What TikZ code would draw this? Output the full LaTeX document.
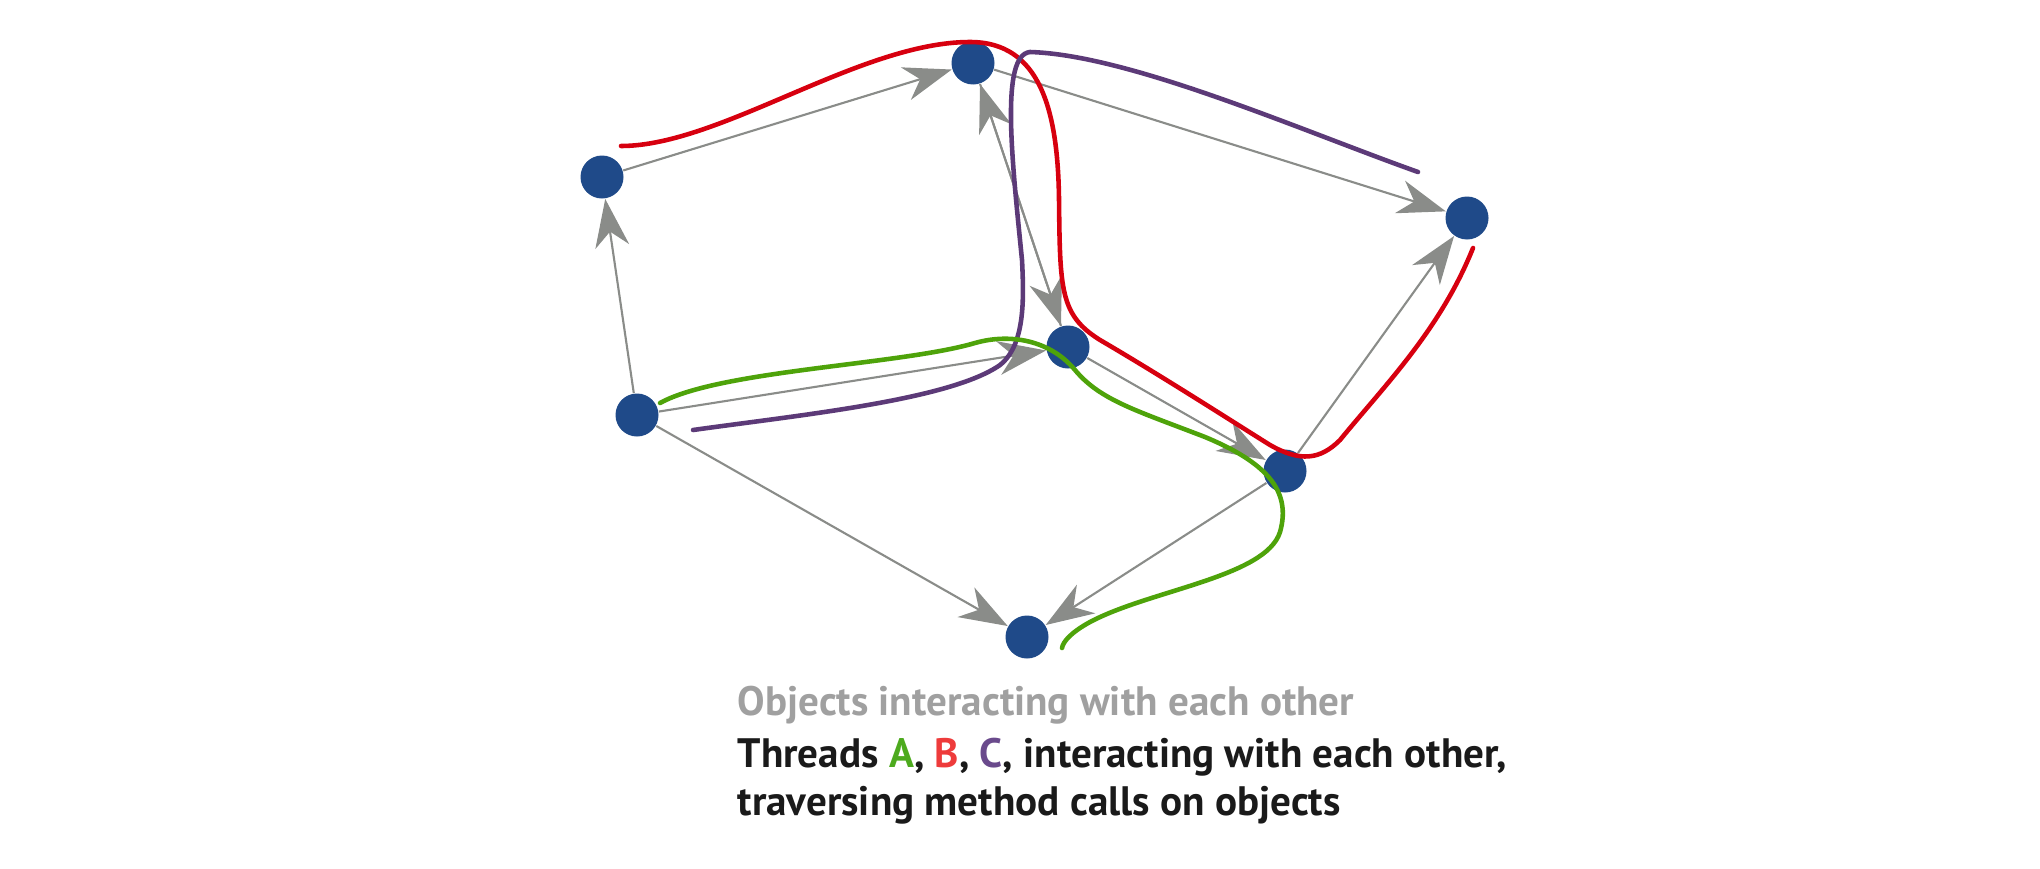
\documentclass[tikz,border=0pt]{standalone}
\usepackage{fontspec}
\setmainfont{PT Sans}
\usetikzlibrary{arrows.meta}
\definecolor{objblue}{HTML}{1F4A89}
\definecolor{callgray}{HTML}{8A8C89}
\definecolor{threadA}{HTML}{4EA30A}
\definecolor{threadB}{HTML}{D7000F}
\definecolor{threadC}{HTML}{5C3A78}
\definecolor{textA}{HTML}{4DAA1E}
\definecolor{textB}{HTML}{EE3B3B}
\definecolor{textC}{HTML}{6A4A8C}
\definecolor{captiongray}{HTML}{A0A0A0}
\definecolor{captionink}{HTML}{1A1A1A}
\tikzset{
  object/.style={circle,fill=objblue,minimum size=4.3mm,inner sep=0pt},
  call/.style={draw=callgray,line width=0.6pt,
    -{Stealth[length=4.8mm,width=3.4mm,inset=1.5mm]}},
  thread/.style={line width=1.3pt,line cap=round},
  caption/.style={anchor=base west,inner sep=0pt,
    font=\fontsize{11.7}{14}\selectfont\bfseries},
}
\begin{document}
\begin{tikzpicture}[x=0.1mm,y=-0.1mm]
  \path[use as bounding box] (0,0) rectangle (2040,868);
  % objects
  \foreach \n/\x/\y in {n1/602/177,n2/973/63,n3/1467/218,n4/1068/347,
                        n5/637/415,n6/1285/471,n7/1027/637}
    {\node[object] (\n) at (\x,\y) {};}
  % method calls between objects
  \draw[call] (n5)--(n1);
  \draw[call] (n1)--(n2);
  \draw[call] (n2)--(n3);
  \draw[call] (n2)--(n4);
  \draw[call] (n4)--(n2);
  \draw[call] (n5)--(n4);
  \draw[call] (n4)--(n6);
  \draw[call] (n6)--(n3);
  \draw[call] (n5)--(n7);
  \draw[call] (n6)--(n7);
  % thread B
  \draw[thread,threadB] (621,146) .. controls (720,146) and (860,42) .. (970,42)
    .. controls (1040,42) and (1058,110) .. (1059,200)
    .. controls (1060,290) and (1060,315) .. (1100,340)
    .. controls (1160,375) and (1230,420) .. (1270,445)
    .. controls (1300,462) and (1320,460) .. (1340,440)
    .. controls (1385,385) and (1440,330) .. (1473,248);
  % thread C
  \draw[thread,threadC] (693,430) .. controls (800,415) and (950,400) .. (1000,365)
    .. controls (1025,345) and (1024,300) .. (1022,260)
    .. controls (1012,160) and (1000,55) .. (1030,52)
    .. controls (1130,55) and (1300,130) .. (1418,172);
  % thread A
  \draw[thread,threadA] (660,403) .. controls (720,370) and (900,365) .. (975,343)
    .. controls (1010,333) and (1050,340) .. (1075,370)
    .. controls (1100,400) and (1135,410) .. (1205,437)
    .. controls (1265,462) and (1292,490) .. (1280,532)
    .. controls (1266,577) and (1150,590) .. (1090,622)
    .. controls (1070,633) and (1063,642) .. (1062,648);
  % captions
  \node[caption,text=captiongray] (objects) at (737,715)
    {Objects interacting with each other};
  \node[caption,text=captionink] (threads) at (737,767)
    {Threads \textcolor{textA}{A}, \textcolor{textB}{B}, \textcolor{textC}{C}, interacting with each other,};
  \node[caption,text=captionink] (traverse) at (737,815)
    {traversing method calls on objects};
\end{tikzpicture}
\end{document}
